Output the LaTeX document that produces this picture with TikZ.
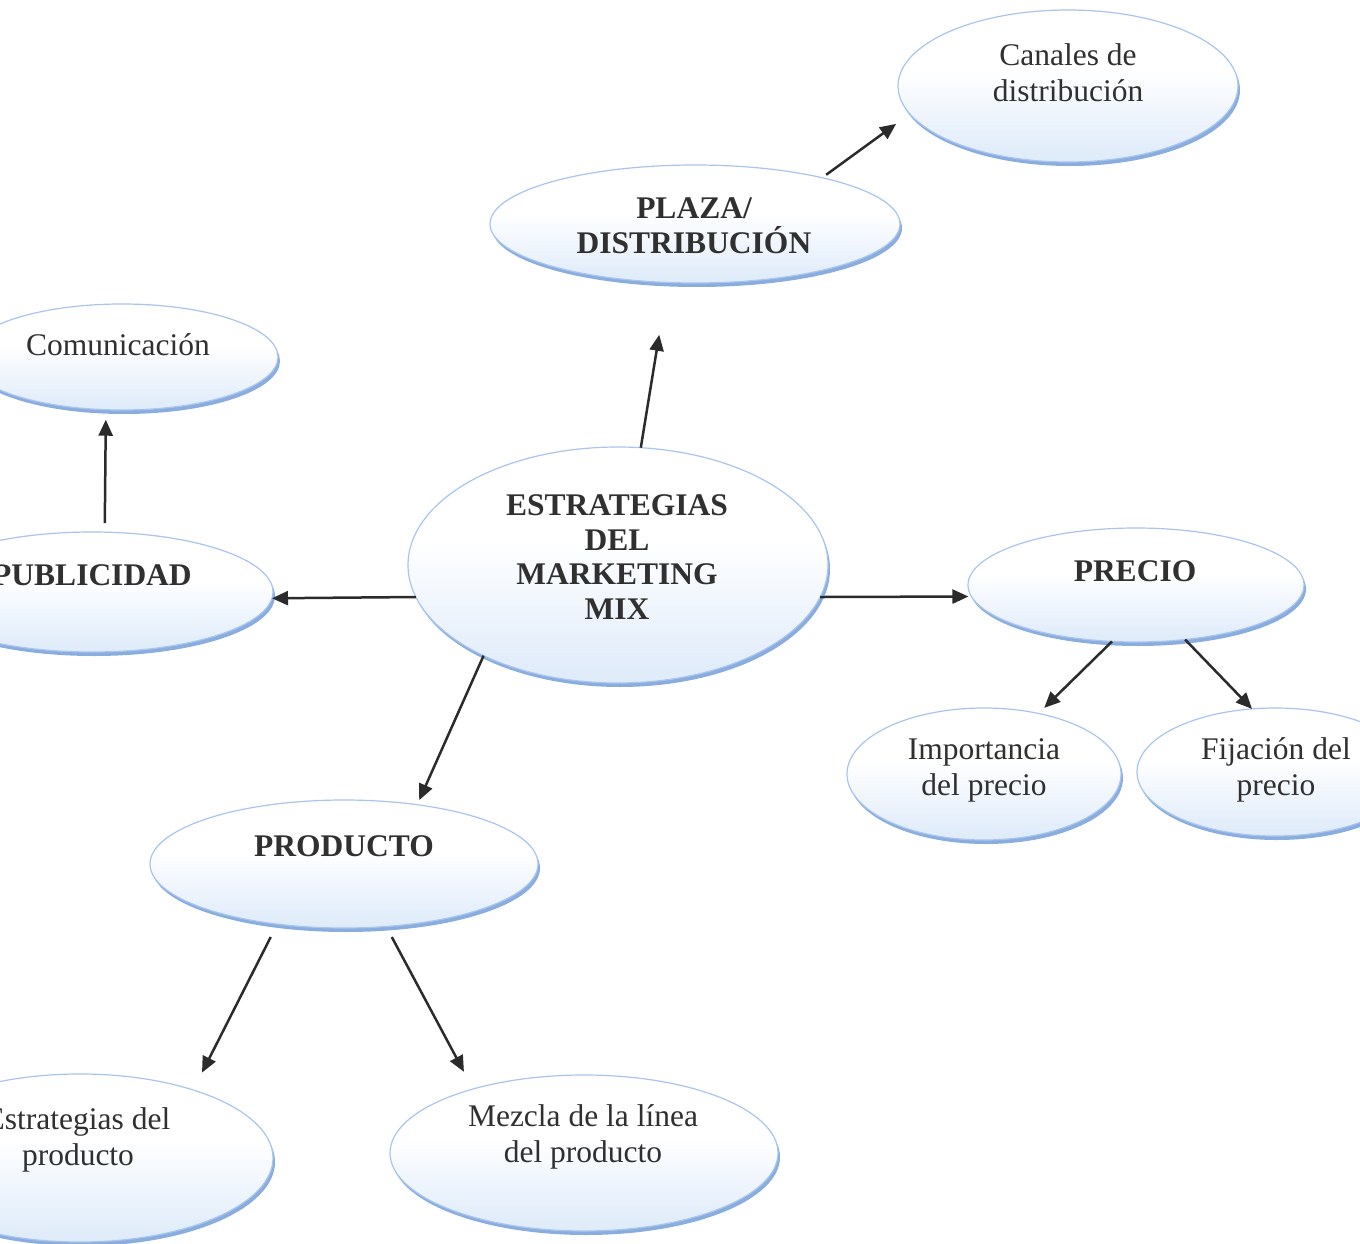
\documentclass[tikz,border=0pt]{standalone}
\usepackage{fontspec}
\setmainfont{Liberation Serif}
\usetikzlibrary{arrows.meta,shapes.geometric}

\definecolor{fillblue}{HTML}{CCDFF7}
\definecolor{edgeblue}{HTML}{A9C5EC}
\definecolor{rimblue}{HTML}{8AADE0}
\definecolor{ink}{HTML}{303030}
\definecolor{arrowink}{HTML}{2B2B2B}

% white upper half fading into light blue towards the bottom
\pgfdeclareverticalshading{bubblefill}{100bp}{color(0bp)=(fillblue); color(30bp)=(fillblue!55!white); color(55bp)=(white); color(100bp)=(white)}

\tikzset{
  bubble/.style={ellipse, inner sep=0pt, outer sep=0pt, shading=bubblefill,
    draw=edgeblue, line width=1.2pt,
    preaction={fill=rimblue, transform canvas={xshift=2pt, yshift=-4pt}}},
  lbl/.style={text=ink, align=center, inner sep=0pt,
    font=\fontsize{31.5}{36}\selectfont},
  lblb/.style={lbl, font=\fontsize{31.5}{34.5}\selectfont\bfseries},
  arr/.style={draw=arrowink, line width=2.5pt, -{Triangle[length=16pt,width=14pt]}}
}

\begin{document}
\begin{tikzpicture}[x=1pt,y=-1pt]
\fill[white] (0,0) rectangle (1360,1244);
\useasboundingbox (0,0) rectangle (1360,1244);
\clip (0,0) rectangle (1360,1244);

% ellipses
\node[bubble, minimum width=340pt, minimum height=152pt] (canales) at (1068,86) {};
\node[bubble, minimum width=410pt, minimum height=118pt] (plaza) at (695,224) {};
\node[bubble, minimum width=312pt, minimum height=106pt] (com) at (122,357) {};
\node[bubble, minimum width=362pt, minimum height=120pt] (pub) at (92,592) {};
\node[bubble, minimum width=420pt, minimum height=236pt] (est) at (618,565) {};
\node[bubble, minimum width=336pt, minimum height=114pt] (precio) at (1136,585) {};
\node[bubble, minimum width=274pt, minimum height=132pt] (imp) at (984,774) {};
\node[bubble, minimum width=276pt, minimum height=128pt] (fij) at (1275,772) {};
\node[bubble, minimum width=388pt, minimum height=128pt] (prod) at (344,864) {};
\node[bubble, minimum width=386pt, minimum height=168pt] (estp) at (80,1158) {};
\node[bubble, minimum width=388pt, minimum height=156pt] (mez) at (584,1153) {};

% texts
\node[lbl] (canales-t) at (1068,73) {Canales de\\distribución};
\node[lblb] (plaza-t) at (694,226) {PLAZA/\\DISTRIBUCIÓN};
\node[lbl] (com-t) at (118,345) {Comunicación};
\node[lblb] (pub-t) at (92,575) {PUBLICIDAD};
\node[lblb] (est-t) at (617,557) {ESTRATEGIAS\\DEL\\MARKETING\\MIX};
\node[lblb] (precio-t) at (1135,571) {PRECIO};
\node[lbl] (imp-t) at (984,770) {Importancia\\del precio};
\node[lbl] (fij-t) at (1276,770) {Fijación del\\precio};
\node[lblb] (prod-t) at (344,846) {PRODUCTO};
\node[lbl] (estp-t) at (78,1140) {Estrategias del\\producto};
\node[lbl] (mez-t) at (583,1137) {Mezcla de la línea\\del producto};

% connectors
\draw[arr, shorten <=5pt, shorten >=17pt] (plaza.20.5) -- (canales.190.2);
\draw[arr, shorten >=53pt] (est.79.4) -- (plaza.245.3);
\draw[arr, shorten <=9pt, shorten >=10pt] (pub.78.7) -- (com.-107.9);
\draw[arr] (est.189.8) -- (pub.-2.4);
\draw[arr, shorten >=3pt] (est.-9.8) -- (precio.184.6);
\draw[arr, shorten >=8pt] (precio.247.9) -- (imp.48.7);
\draw[arr] (precio.-48.7) -- (fij.110);
\draw[arr, shorten >=5pt] (est.214.3) -- (prod.39.6);
\draw[arr, shorten <=14.5pt, shorten >=19.5pt] (prod.222.3) -- (estp.31.8);
\draw[arr, shorten <=12pt, shorten >=19.5pt] (prod.-56.4) -- (mez.150.3);
\end{tikzpicture}
\end{document}
